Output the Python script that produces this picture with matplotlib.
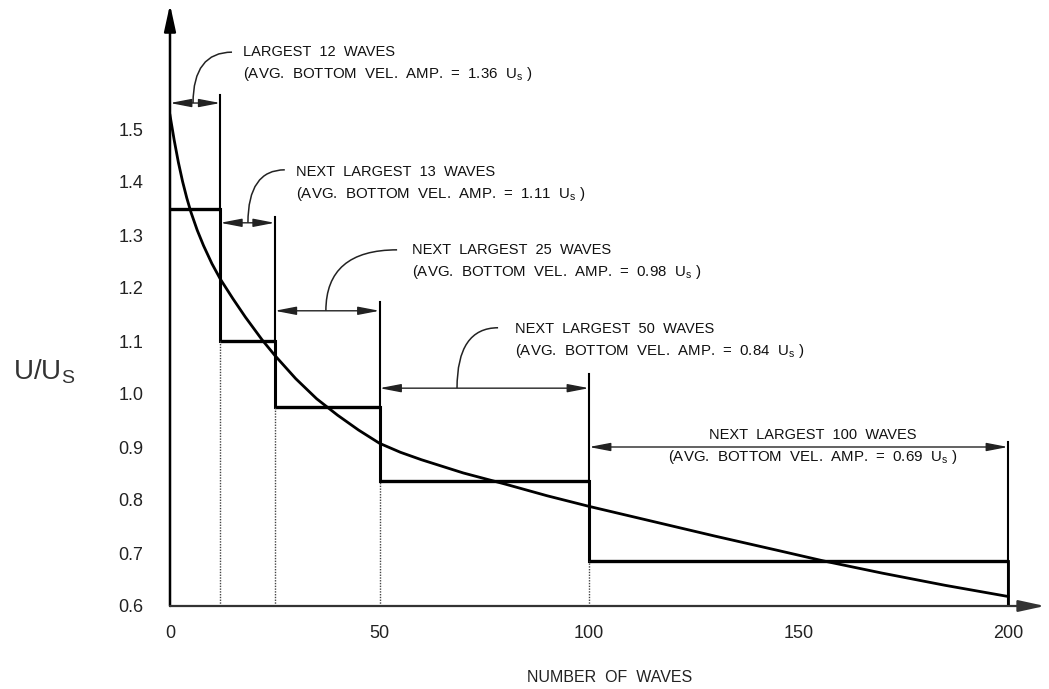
import matplotlib
matplotlib.use('Agg')
import matplotlib.pyplot as plt
from matplotlib.path import Path
import matplotlib.patches as mpatches

plt.rcParams['font.family'] = ['Liberation Sans', 'DejaVu Sans']

# groups of waves and the average level drawn for each
edges = [0, 12, 25, 50, 100, 200]
levels = [1.35, 1.10, 0.975, 0.835, 0.685]
counts = [12, 13, 25, 50, 100]
avg_amp = ['1.36', '1.11', '0.98', '0.84', '0.69']

# U/Us against number of waves
curve_n = [0, 1, 2, 3, 4, 5, 6.5, 8, 10, 12, 15, 18, 22, 25, 30, 35, 40, 45,
           50, 55, 60, 70, 80, 90, 100, 115, 130, 145, 156, 170, 185, 200]
curve_u = [1.526, 1.479, 1.437, 1.401, 1.370, 1.343, 1.309, 1.280, 1.246,
           1.217, 1.180, 1.145, 1.102, 1.073, 1.029, 0.991, 0.960, 0.932,
           0.907, 0.890, 0.876, 0.851, 0.830, 0.808, 0.788, 0.760, 0.732,
           0.705, 0.685, 0.662, 0.639, 0.618]

xticks = [0, 50, 100, 150, 200]
yticks = [0.6, 0.7, 0.8, 0.9, 1.0, 1.1, 1.2, 1.3, 1.4, 1.5]

# dimension arrow heights, extension line tops and annotation spots
dim_y = [1.549, 1.323, 1.157, 1.011, 0.90]
ext_top = [1.564, 1.334, 1.174, 1.038, 0.91]
leader_x = [5.5, 18.6, 37.2, 68.5]
leader_end = [(14.8, 1.645), (27.4, 1.423), (54.2, 1.272), (78.3, 1.125)]
text_pos = [(17.4, 1.645), (30.1, 1.419), (57.8, 1.272), (82.3, 1.123),
            (153.4, 0.923)]

fig = plt.figure(figsize=(10.49, 6.89), dpi=100)
ax = fig.add_axes([170/1049, 83/689, 879/1049, 606/689])
ax.set_xlim(0, 879/4.19)
ax.set_ylim(0.6, 0.6 + 606/530.)
for s in ax.spines.values():
    s.set_visible(False)
ax.patch.set_alpha(0)

ax.set_xticks(xticks)
ax.set_xticklabels([str(t) for t in xticks])
ax.set_yticks(yticks)
ax.set_yticklabels(['%.1f' % t for t in yticks])
ax.tick_params(axis='x', length=0, pad=14, labelsize=13, labelcolor='#222222')
ax.tick_params(axis='y', length=0, pad=19, labelsize=13, labelcolor='#222222')
ax.set_xlabel('NUMBER  OF  WAVES', fontsize=11.5, labelpad=20, color='#222222')
ax.set_ylabel(r'U/U$_\mathregular{S}$', fontsize=20, rotation=0,
              color='#333333', va='center', ha='center')
ax.yaxis.set_label_coords(-0.143, (606 - 372) / 606.)

# main axes with arrow heads
ax.annotate('', xy=(0, 1.735), xytext=(0, 0.6),
            arrowprops=dict(arrowstyle='-|>,head_length=1.6,head_width=0.35',
                            lw=1.8, color='k', shrinkA=0, shrinkB=0),
            annotation_clip=False)
ax.annotate('', xy=(208.8, 0.6), xytext=(0, 0.6),
            arrowprops=dict(arrowstyle='-|>,head_length=1.6,head_width=0.35',
                            lw=1.6, color='#333333', shrinkA=0, shrinkB=0),
            annotation_clip=False)

# step levels
for i in range(len(levels)):
    ax.plot([edges[i], edges[i+1]], [levels[i], levels[i]], color='k', lw=2.4,
            solid_capstyle='butt')
# drops between levels (solid) and dotted guides down to the axis
for i in range(1, len(levels)):
    ax.plot([edges[i], edges[i]], [levels[i], levels[i-1]], color='k', lw=2.2)
    ax.plot([edges[i], edges[i]], [0.6, levels[i]], color='#444444', lw=1.0,
            ls=(0, (1, 1)))
ax.plot([200, 200], [0.6, levels[-1]], color='k', lw=2.0)

# extension lines above each right edge
for i in range(len(counts)):
    x = edges[i+1]
    lo = levels[i] if i < len(counts) - 1 else 0.6
    ax.plot([x, x], [lo, ext_top[i]], color='k', lw=1.5)

# the curve
ax.plot(curve_n, curve_u, color='k', lw=2.0)

# dimension arrows
for i in range(len(counts)):
    ax.annotate('', xy=(edges[i+1], dim_y[i]), xytext=(edges[i], dim_y[i]),
                arrowprops=dict(arrowstyle='<|-|>,head_length=1.3,head_width=0.25',
                                lw=1.0, color='#222222', shrinkA=0, shrinkB=0))

# curved leaders
for i in range(len(leader_x)):
    x0, y0 = leader_x[i], dim_y[i]
    x1, y1 = leader_end[i]
    p = Path([(x0, y0), (x0, y1), (x1, y1)],
             [Path.MOVETO, Path.CURVE3, Path.CURVE3])
    ax.add_patch(mpatches.PathPatch(p, fc='none', ec='#222222', lw=1.1))

# labels
for i in range(len(counts)):
    if i == 0:
        head = 'LARGEST  %d  WAVES' % counts[i]
    else:
        head = 'NEXT  LARGEST  %d  WAVES' % counts[i]
    sub = r'(AVG.  BOTTOM  VEL.  AMP.  =  %s  U$_\mathregular{s}$ )' % avg_amp[i]
    tx, ty = text_pos[i]
    ha = 'center' if i == len(counts) - 1 else 'left'
    ax.text(tx, ty, head, fontsize=10.5, ha=ha, va='center', color='#111111')
    ax.text(tx, ty - 0.042, sub, fontsize=10.8, ha=ha, va='center',
            color='#111111')

fig.savefig('out.png', dpi=100)
